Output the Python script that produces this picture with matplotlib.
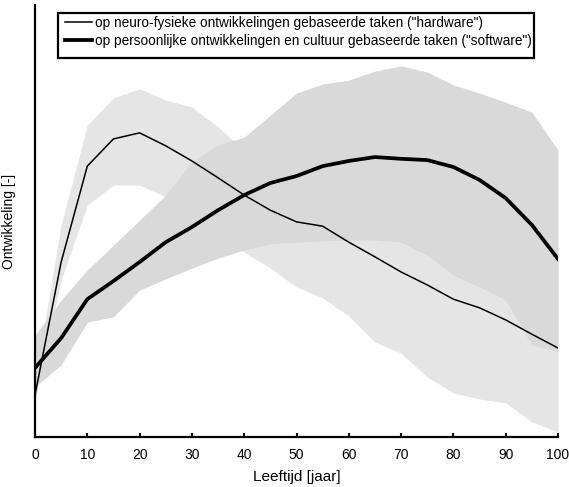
import matplotlib
matplotlib.use('Agg')
import matplotlib.pyplot as plt
from matplotlib.patches import Rectangle

plt.rcParams['font.family'] = ['Liberation Sans', 'DejaVu Sans']

# leeftijd in jaren, stappen van 5
age = [0, 5, 10, 15, 20, 25, 30, 35, 40, 45, 50, 55, 60, 65, 70, 75, 80, 85, 90, 95, 100]

# neuro-fysieke ontwikkeling ("hardware")
hw_mid = [9.7, 40.5, 62.7, 69.0, 70.4, 67.4, 63.9, 60.0, 56.0, 52.5, 49.8,
          48.8, 45.1, 41.7, 38.2, 35.2, 31.9, 29.9, 27.1, 23.8, 20.6]
hw_low = [8.5, 36.3, 53.7, 58.3, 58.3, 55.6, 51.4, 46.8, 42.8, 39.1, 34.7,
          32.2, 28.0, 22.0, 19.4, 13.9, 10.2, 8.8, 7.9, 3.5, 1.2]
hw_high = [13.0, 49.1, 72.2, 78.5, 80.6, 78.0, 76.4, 71.8, 66.4, 64.1, 61.8,
           59.5, 57.2, 54.9, 53.7, 52.5, 51.4, 49.1, 47.9, 44.4, 41.0]

# persoonlijke ontwikkeling en cultuur ("software")
sw_mid = [16.0, 22.9, 31.9, 36.1, 40.5, 45.1, 48.6, 52.5, 56.0, 58.8, 60.4,
          62.7, 63.9, 64.8, 64.4, 64.1, 62.5, 59.5, 55.3, 49.1, 41.2]
sw_low = [11.6, 16.7, 26.6, 27.8, 34.0, 36.6, 39.1, 41.4, 43.3, 44.7, 45.1,
          45.4, 45.6, 45.6, 45.1, 42.1, 37.5, 34.7, 31.7, 21.3, 19.7]
sw_high = [23.6, 31.7, 38.7, 44.4, 50.2, 56.0, 63.7, 67.6, 69.4, 74.5, 79.6,
           81.7, 82.6, 84.7, 85.9, 84.5, 81.5, 79.6, 77.5, 75.2, 66.4]

labels = ['op neuro-fysieke ontwikkelingen gebaseerde taken ("hardware")',
          'op persoonlijke ontwikkelingen en cultuur gebaseerde taken ("software")']
xticks = [0, 10, 20, 30, 40, 50, 60, 70, 80, 90, 100]

W, H = 569, 487
fig = plt.figure(figsize=(W / 100, H / 100), dpi=100)
ax = fig.add_axes([35 / W, 50 / H, 523 / W, 432 / H])

ax.fill_between(age, hw_low, hw_high, color='#e5e5e5', lw=0, zorder=1)
ax.fill_between(age, sw_low, sw_high, color='#d9d9d9', lw=0, zorder=2)
ax.plot(age, hw_mid, color='black', lw=1.1, zorder=3, label=labels[0])
ax.plot(age, sw_mid, color='black', lw=2.7, zorder=4, label=labels[1])

ax.set_xlim(0, 100)
ax.set_ylim(0, 100)
ax.set_xticks(xticks)
ax.set_yticks([])
ax.tick_params(axis='x', direction='in', length=3, width=1.5, labelsize=10, pad=8)
for s in ['top', 'right']:
    ax.spines[s].set_visible(False)
for s in ['left', 'bottom']:
    ax.spines[s].set_linewidth(1.6)

ax.set_xlabel('Leeftijd [jaar]', fontsize=11, labelpad=6)
ax.set_ylabel('Ontwikkeling [-]', fontsize=10, labelpad=14)

# legend without own frame, box drawn separately (extra room at the bottom)
box = Rectangle((58 / W, 1 - 58 / H), 476 / W, 45 / H, transform=fig.transFigure,
                facecolor='white', edgecolor='black', lw=1.6, zorder=5, clip_on=False)
ax.add_patch(box)
leg = ax.legend(loc='upper left', bbox_to_anchor=(65 / W, 1 - 16 / H),
                bbox_transform=fig.transFigure, fontsize=9.8, frameon=False,
                handlelength=2.0, handletextpad=0.2, borderpad=0.0,
                labelspacing=0.3, borderaxespad=0)
leg.set_zorder(6)

fig.savefig('out.png', dpi=100)
